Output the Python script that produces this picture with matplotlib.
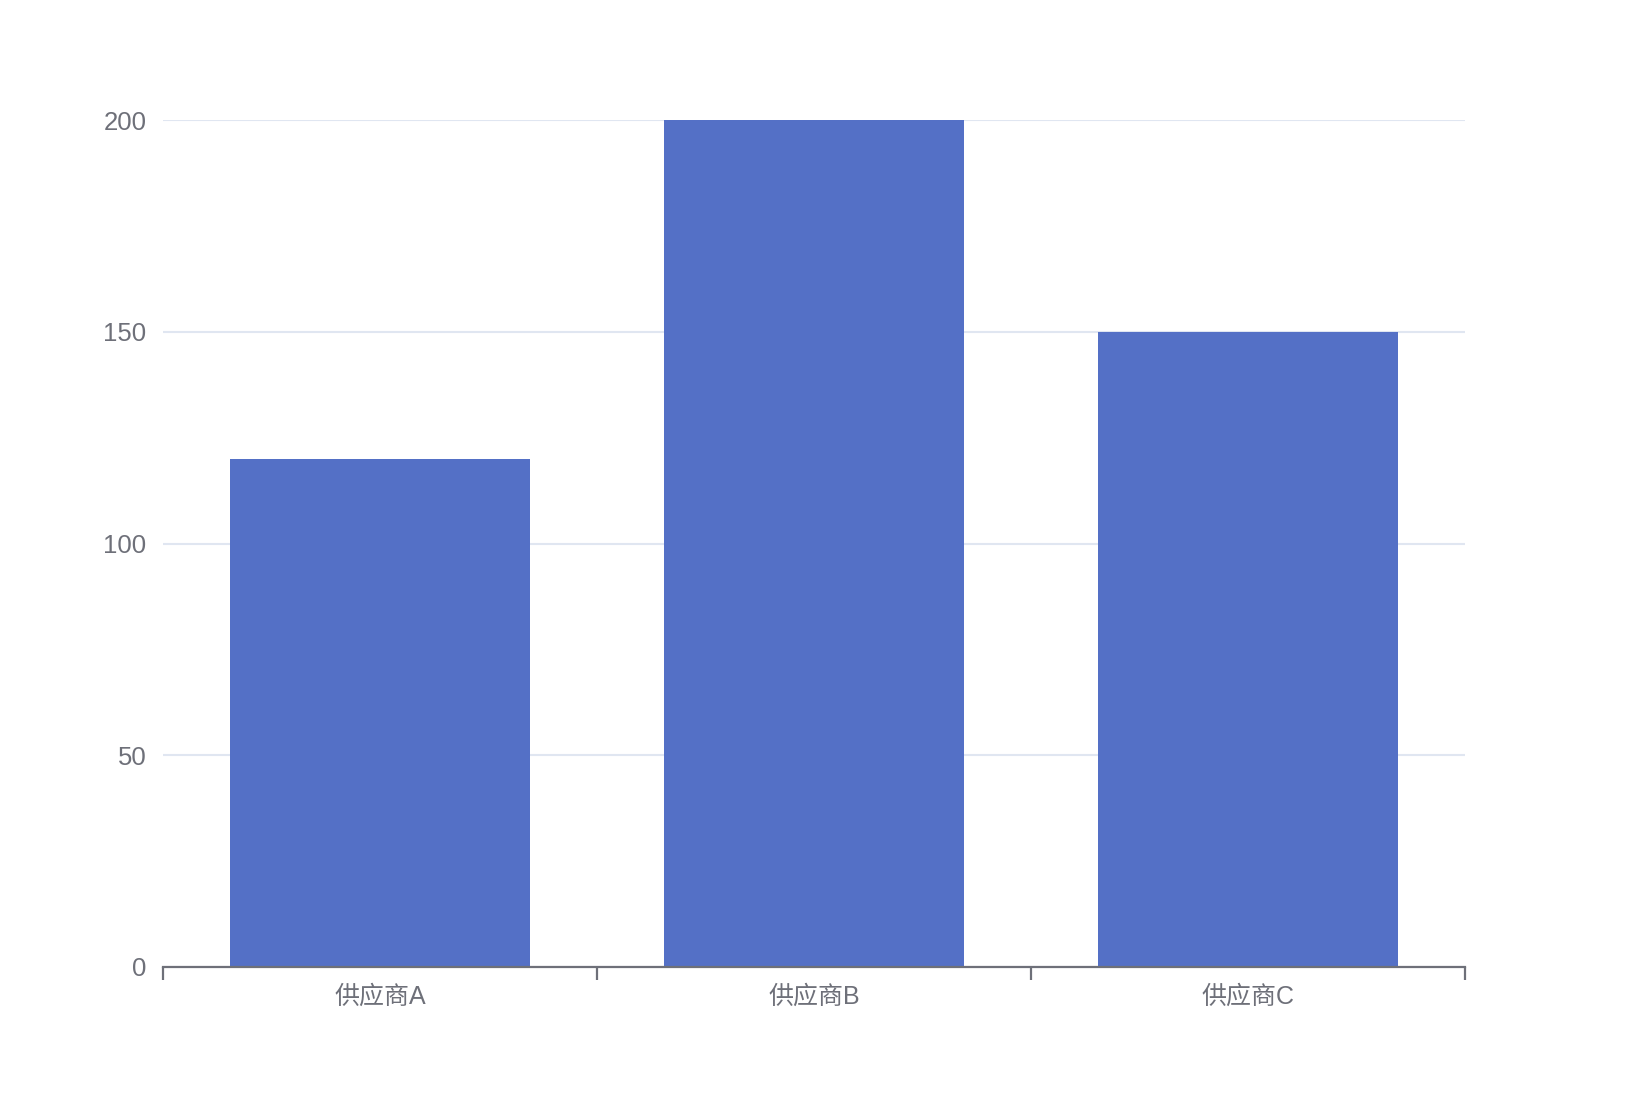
import matplotlib
matplotlib.use("Agg")
import matplotlib.pyplot as plt

plt.rcParams['font.family'] = ['Liberation Sans', 'Noto Sans CJK SC', 'DejaVu Sans']

categories = ['供应商A', '供应商B', '供应商C']
values = [120, 200, 150]
yticks = [0, 50, 100, 150, 200]

fig = plt.figure(figsize=(16.28, 11.06), dpi=100)
ax = fig.add_axes([163 / 1628, 1 - 966.6 / 1106, (1465 - 163) / 1628, (966.6 - 120.4) / 1106])

x = range(len(categories))
ax.bar(x, values, width=0.69, color='#5470c6', zorder=3)

ax.set_xlim(-0.5, len(categories) - 0.5)
ax.set_ylim(0, 200)
ax.set_yticks(yticks)
ax.set_xticks(list(x))
ax.set_xticklabels(categories)
ax.set_xticks([-0.5, 0.5, 1.5, 2.5], minor=True)

ax.grid(axis='y', color='#E0E6F1', linewidth=1.5, zorder=0)
for s in ['top', 'right', 'left']:
    ax.spines[s].set_visible(False)
ax.spines['bottom'].set_color('#6E7079')
ax.spines['bottom'].set_linewidth(1.6)
ax.spines['bottom'].set_zorder(4)

ax.tick_params(axis='y', length=0, pad=12, labelsize=18.5, labelcolor='#6E7079')
ax.tick_params(axis='x', which='major', length=0, pad=13, labelsize=18, labelcolor='#6E7079')
ax.tick_params(axis='x', which='minor', length=9, width=1.6, color='#6E7079')

fig.savefig('out.png', dpi=100)
